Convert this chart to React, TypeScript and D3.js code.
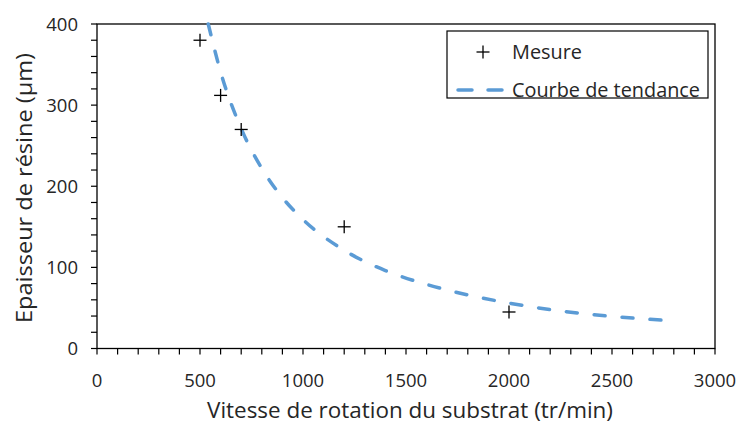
import React from "react";
import * as d3 from "d3";

const measureX = [500, 600, 700, 1200, 2000];
const measureY = [380, 312, 270, 150, 45];

const trendX = [540, 600, 700, 800, 900, 1000, 1200, 1400, 1600, 1800, 2000, 2200, 2400, 2600, 2740];
const trendY = [400, 341, 271, 222, 186, 159, 121, 96, 79, 66, 56, 48, 42, 37.5, 35];

const xTicks = [0, 500, 1000, 1500, 2000, 2500, 3000];
const yTicks = [0, 100, 200, 300, 400];

const W = 740, H = 425;
const M = { left: 97, right: 715, top: 24, bottom: 348.5 };
const FONT = "'Open Sans', sans-serif";
const TXT = "#262626";
const BLUE = "#5B9BD5";

export default function App() {
  const x = d3.scaleLinear().domain([0, 3000]).range([M.left, M.right]);
  const y = d3.scaleLinear().domain([0, 400]).range([M.bottom, M.top]);
  const xMinor = d3.range(0, 3001, 100);
  const yMinor = d3.range(0, 401, 20);
  const line = d3
    .line<number>()
    .x((_, i) => x(trendX[i]))
    .y((d) => y(d))
    .curve(d3.curveMonotoneX);
  const tl = 6;
  return (
    <svg width={W} height={H} style={{ position: "absolute", left: 0, top: 0, background: "#fff" }} fontFamily={FONT}>
      <rect x={0} y={0} width={W} height={H} fill="#fff" />
      <rect x={M.left} y={M.top} width={M.right - M.left} height={M.bottom - M.top} fill="none" stroke="#000" strokeWidth={1.3} />
      {xMinor.map((v) => (
        <line key={"xt" + v} x1={x(v)} x2={x(v)} y1={M.bottom} y2={M.bottom + tl} stroke="#000" strokeWidth={1.2} />
      ))}
      {yMinor.map((v) => (
        <line key={"yt" + v} x1={M.left - tl} x2={M.left} y1={y(v)} y2={y(v)} stroke="#000" strokeWidth={1.2} />
      ))}
      {xTicks.map((v) => (
        <text key={"xl" + v} x={x(v)} y={387} textAnchor="middle" fontSize={18.5} fill={TXT}>
          {v}
        </text>
      ))}
      {yTicks.map((v) => (
        <text key={"yl" + v} x={78} y={y(v) + 6.5} textAnchor="end" fontSize={18.5} fill={TXT}>
          {v}
        </text>
      ))}
      <text x={410} y={418} textAnchor="middle" fontSize={21} fill={TXT} textLength={406} lengthAdjust="spacingAndGlyphs">
        Vitesse de rotation du substrat (tr/min)
      </text>
      <text transform={`translate(32,188) rotate(-90)`} textAnchor="middle" fontSize={21} fill={TXT} textLength={270} lengthAdjust="spacingAndGlyphs">
        Epaisseur de résine (µm)
      </text>
      <path d={line(trendY) || ""} fill="none" stroke={BLUE} strokeWidth={3.5} strokeDasharray="11 17" strokeLinecap="round" />
      {measureX.map((v, i) => (
        <g key={"m" + i} stroke="#000" strokeWidth={1.3}>
          <line x1={x(v) - 6.5} x2={x(v) + 6.5} y1={y(measureY[i])} y2={y(measureY[i])} />
          <line x1={x(v)} x2={x(v)} y1={y(measureY[i]) - 6.5} y2={y(measureY[i]) + 6.5} />
        </g>
      ))}
      <rect x={447} y={31} width={261} height={67} fill="#fff" stroke="#000" strokeWidth={1.2} />
      <g stroke="#000" strokeWidth={1.3}>
        <line x1={476.5} x2={489.5} y1={52} y2={52} />
        <line x1={483} x2={483} y1={45.5} y2={58.5} />
      </g>
      <text x={512} y={58.5} fontSize={19.5} fill={TXT} textLength={70} lengthAdjust="spacingAndGlyphs">Mesure</text>
      <line x1={458} x2={472} y1={90} y2={90} stroke={BLUE} strokeWidth={3.5} strokeLinecap="round" />
      <line x1={488} x2={502} y1={90} y2={90} stroke={BLUE} strokeWidth={3.5} strokeLinecap="round" />
      <text x={512} y={96.5} fontSize={19.5} fill={TXT} textLength={188} lengthAdjust="spacingAndGlyphs">Courbe de tendance</text>
    </svg>
  );
}
